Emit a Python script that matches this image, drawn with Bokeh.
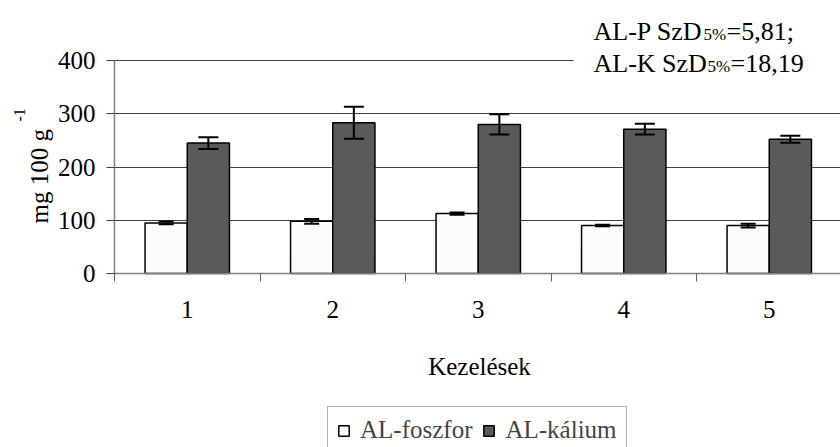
import numpy as np
from bokeh.plotting import figure
from bokeh.models import (ColumnDataSource, Range1d, FixedTicker, Whisker, TeeHead,
                          Label, Legend, LegendItem, BoxAnnotation)
from bokeh.embed import file_html
from bokeh.resources import INLINE

# ---- data ----
categories = [1, 2, 3, 4, 5]
tick_labels = ["1", "2", "3", "4", "5"]
y_ticks = [0, 100, 200, 300, 400]
al_p = [95, 98, 112.5, 90, 90]
al_p_err = [2.5, 4.5, 2, 1.5, 3.5]
al_k = [245, 283, 280, 271, 252]
al_k_err = [11, 30, 19, 10, 6.5]
series_names = ["AL-foszfor", "AL-kálium"]
note_lines = [("AL-P SzD", "5%", "=5,81;"), ("AL-K SzD", "5%", "=18,19")]
x_title = "Kezelések"
y_title = "mg 100 g"
y_title_sup = "-1"

FONT = "Liberation Serif"
bar_w = 0.29

cats = np.array(categories, dtype=float)
src_p = ColumnDataSource(dict(x=cats - bar_w / 2, top=al_p,
                              upper=np.array(al_p) + np.array(al_p_err),
                              lower=np.array(al_p) - np.array(al_p_err)))
src_k = ColumnDataSource(dict(x=cats + bar_w / 2, top=al_k,
                              upper=np.array(al_k) + np.array(al_k_err),
                              lower=np.array(al_k) - np.array(al_k_err)))

# canvas / frame geometry (frame spans the whole canvas, axes use fixed locations)
W, H = 840, 447
ax_left_px = 114      # y axis position from left
ax_zero_px = 273      # y=0 position from top
ax_top_px = 60        # y=400 position from top
cat_px = 145.5
y_px = (ax_zero_px - ax_top_px) / 400.0

x0 = 0.5 - ax_left_px / cat_px
x1 = 0.5 + (W - ax_left_px) / cat_px
y0 = -(H - ax_zero_px) / y_px
y1 = ax_zero_px / y_px

p = figure(width=W, height=H, output_backend="svg", toolbar_location=None, title=None,
           x_range=Range1d(x0, x1), y_range=Range1d(y0, y1),
           min_border=0)
p.outline_line_color = None
p.background_fill_color = "white"
p.border_fill_color = "white"

r_p = p.vbar(x="x", top="top", width=bar_w, source=src_p, fill_color="#fbfdfb",
             line_color="black", line_width=1.5)
r_k = p.vbar(x="x", top="top", width=bar_w, source=src_k, fill_color="#5a5a5a",
             line_color="black", line_width=1.5)

for src, sz in ((src_p, 15), (src_k, 20)):
    w = Whisker(source=src, base="x", upper="upper", lower="lower",
                line_color="black", line_width=2, level="overlay",
                upper_head=TeeHead(size=sz, line_width=2, line_color="black"),
                lower_head=TeeHead(size=sz, line_width=2, line_color="black"))
    p.add_layout(w)

# axes
xa = p.xaxis[0]
xa.fixed_location = 0
xa.bounds = (0.5, x1)
xa.ticker = FixedTicker(ticks=categories,
                        minor_ticks=[c - 0.5 for c in categories] + [categories[-1] + 0.5])
xa.major_label_overrides = {c: t for c, t in zip(categories, tick_labels)}
xa.major_tick_line_color = None
xa.minor_tick_in = 0
xa.minor_tick_out = 8
xa.minor_tick_line_color = "#606060"
xa.axis_line_color = "#808080"
xa.axis_line_width = 1.5
xa.major_label_text_font = FONT
xa.major_label_text_font_size = "25px"
xa.major_label_text_color = "black"
xa.major_label_standoff = 19

ya = p.yaxis[0]
ya.fixed_location = 0.5
ya.bounds = (0, 400)
ya.ticker = FixedTicker(ticks=y_ticks)
ya.minor_tick_line_color = None
ya.major_tick_in = 0
ya.major_tick_out = 8
ya.major_tick_line_color = "#404040"
ya.axis_line_color = "#808080"
ya.axis_line_width = 1.5
ya.major_label_text_font = FONT
ya.major_label_text_font_size = "25px"
ya.major_label_text_color = "black"
ya.major_label_standoff = 11

p.xgrid.grid_line_color = None
p.ygrid.grid_line_color = "#404040"
p.ygrid.grid_line_width = 1
p.ygrid.ticker = FixedTicker(ticks=y_ticks)
p.ygrid.cross_bounds = (0.5, x1)


def lab(x, y, text, size, align="left", angle=0.0):
    p.add_layout(Label(x=x, y=y, x_units="screen", y_units="screen", text=text,
                       angle=angle, text_align=align, text_baseline="alphabetic",
                       text_font=FONT, text_font_size=size, text_color="black"))


# axis titles
lab(38.5, H - 223, y_title, "25px", angle=np.pi / 2)
lab(19, H - 121, y_title_sup, "16px", angle=np.pi / 2)
lab(479, H - 366, x_title, "25px", align="center")

# white box behind the note
p.add_layout(BoxAnnotation(left=573, left_units="screen", bottom=H - 72,
                           bottom_units="screen", fill_color="white", fill_alpha=1,
                           line_color=None, level="annotation"))

# note texts
for (main, sub, rest), by in zip(note_lines, [H - 31, H - 63]):
    nx = 593
    lab(nx, by, main, "26px")
    sx = nx + (110 if main.startswith("AL-P") else 114)
    lab(sx, by - 3, sub, "17px")
    lab(sx + 23, by, rest, "26px")

legend = Legend(items=[LegendItem(label=series_names[0], renderers=[r_p]),
                       LegendItem(label=series_names[1], renderers=[r_k])],
                orientation="horizontal", location=(327, -7))
legend.label_text_font = FONT
legend.label_text_font_size = "25px"
legend.glyph_width = 13
legend.glyph_height = 13
legend.padding = 9
legend.spacing = 10
legend.label_standoff = 10
legend.border_line_color = "#666666"
legend.border_line_width = 1
legend.background_fill_alpha = 1
p.add_layout(legend, "center")

open("out.html", "w").write(file_html(p, INLINE))
